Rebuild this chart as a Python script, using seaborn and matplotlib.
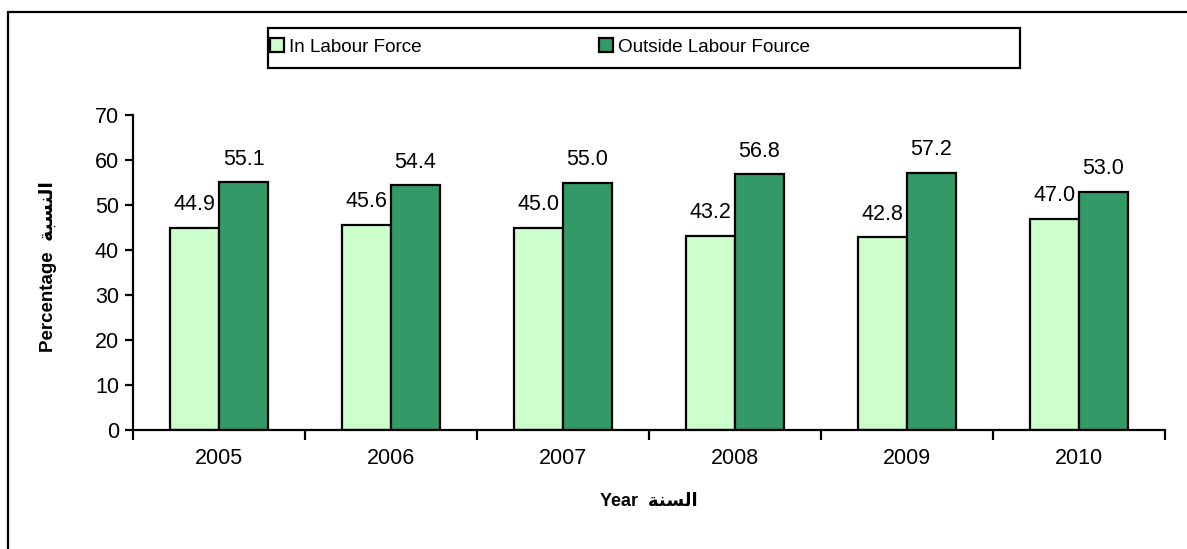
import pandas as pd
import matplotlib.pyplot as plt
import seaborn as sns
from matplotlib.patches import Rectangle

# --- Data ---
years = ['2005', '2006', '2007', '2008', '2009', '2010']
in_labour = [44.9, 45.6, 45.0, 43.2, 42.8, 47.0]
outside_labour = [55.1, 54.4, 55.0, 56.8, 57.2, 53.0]
series_names = ['In Labour Force', 'Outside Labour Fource']
y_ticks = [0, 10, 20, 30, 40, 50, 60, 70]

# Arabic words in presentation forms (already in visual order)
ar_percentage = '\uFE94\uFE92\uFEB4\uFEE8\uFEDF\uFE8D'
ar_year = '\uFE94\uFEE8\uFEB4\uFEDF\uFE8D'

df = pd.DataFrame({
    'Year': years * 2,
    'Value': in_labour + outside_labour,
    'Series': [series_names[0]] * len(years) + [series_names[1]] * len(years),
})

sns.set_style('white')
plt.rcParams['font.family'] = ['Liberation Sans', 'DejaVu Sans']
plt.rcParams['text.color'] = 'black'
plt.rcParams['axes.labelcolor'] = 'black'
plt.rcParams['xtick.color'] = 'black'
plt.rcParams['ytick.color'] = 'black'

fig = plt.figure(figsize=(11.87, 5.49), dpi=100)
ax = fig.add_axes([133 / 1187, 1 - 430 / 549, (1165 - 133) / 1187, (430 - 115) / 549])

colors = {series_names[0]: '#CCFFCC', series_names[1]: '#339966'}
sns.barplot(data=df, x='Year', y='Value', hue='Series', palette=colors, saturation=1,
            width=0.57, edgecolor='black', linewidth=1.6, ax=ax, legend=False)

# value labels above bars
for cont in ax.containers:
    ax.bar_label(cont, fmt='%.1f', padding=9, fontsize=15.5)

ax.set_ylim(0, 70)
ax.set_xlim(-0.5, 5.5)
ax.set_yticks(y_ticks)
ax.tick_params(axis='y', direction='out', length=6, width=1.6, labelsize=15.5, pad=4, left=True)
ax.set_xticks(range(len(years)))
ax.set_xticklabels(years)
ax.tick_params(axis='x', which='major', length=0, labelsize=15.5, pad=13)
ax.set_xticks([i - 0.5 for i in range(len(years) + 1)], minor=True)
ax.tick_params(axis='x', which='minor', direction='out', length=7, width=1.6, bottom=True)

for s in ['top', 'right']:
    ax.spines[s].set_visible(False)
for s in ['left', 'bottom']:
    ax.spines[s].set_color('black')
    ax.spines[s].set_linewidth(1.6)

ax.set_ylabel('Percentage  ' + ar_percentage, fontsize=13.5, fontweight='bold')
ax.yaxis.set_label_coords(-0.074, 0.52)
ax.set_xlabel('Year  ' + ar_year, fontsize=13, fontweight='bold')
ax.xaxis.set_label_coords(0.5, -0.2)

# legend without frame, frame drawn separately
handles = [Rectangle((0, 0), 1, 1, facecolor=colors[n], edgecolor='black', linewidth=1.6) for n in series_names]
fig.legend(handles, series_names, loc='center left', bbox_to_anchor=(270 / 1187, 1 - 47 / 549),
           ncol=2, frameon=False, fontsize=13.6, handlelength=0.75, handleheight=0.75,
           handletextpad=0.25, columnspacing=9.4, borderaxespad=0, borderpad=0)
fig.patches.append(Rectangle((268 / 1187, 1 - 68 / 549), (1020 - 268) / 1187, 40 / 549,
                             transform=fig.transFigure, fill=False, edgecolor='black', linewidth=1.6))

# outer chart border (only left and top visible)
fig.patches.append(Rectangle((8 / 1187, -0.1), 1.2, 1 - 12 / 549 + 0.1,
                             transform=fig.transFigure, fill=False, edgecolor='black', linewidth=1.6))

fig.savefig('out.png', dpi=100)
